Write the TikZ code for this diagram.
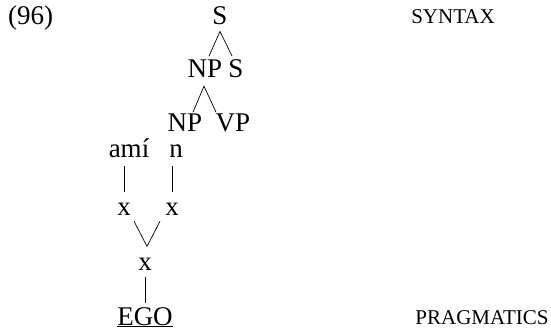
\documentclass[tikz,border=0pt]{standalone}
\usepackage{fontspec}
\setmainfont{Liberation Serif}
\usetikzlibrary{positioning,calc}

\begin{document}
\begin{tikzpicture}[
    x=1pt, y=-1pt,
    t1/.style={inner sep=0pt, anchor=base, font=\fontsize{27}{32}\selectfont},
    t2/.style={inner sep=0pt, anchor=base, font=\fontsize{21}{25}\selectfont},
    edge/.style={line width=0.7pt}
]
    \useasboundingbox (0,0) rectangle (551,331);

    \node [t1, anchor=base west] (ex) at (8,25) {(96)};
    \node [t2] (syn) at (453,24) {SYNTAX};
    \node [t2] (prag) at (482,324) {PRAGMATICS};

    % syntactic tree
    \node [t1] (s0) at (220,25) {S};
    \node [t1] (np1) at (205,78) {NP};
    \node [t1] (s1) at (236,78) {S};
    \node [t1] (np2) at (185,132) {NP};
    \node [t1] (vp) at (233,132) {VP};

    % pragmatic side
    \node [t1] (ami) at (129,158) {amí};
    \node [t1] (n) at (176,158) {n};
    \node [t1] (x1) at (124,215) {x};
    \node [t1] (x2) at (172,215) {x};
    \node [t1] (x3) at (145,270) {x};
    \node [t1] (ego) at (145,325) {\underline{EGO}};

    \coordinate (a1) at ($(s0.south)+(0,6)$);
    \coordinate (a2) at ($(np1.south)+(-1,8)$);
    \coordinate (a3) at ($(x3.north)+(2,-11)$);

    \draw [edge] ($(np1.north)+(4,-4)$) -- (a1) -- ($(s1.north)+(-4,-4)$);
    \draw [edge] ($(np2.north)+(8,-2)$) -- (a2) -- ($(vp.north)+(-17,-2)$);
    \draw [edge, shorten <=8pt, shorten >=10pt] (x1.north |- ami.south) -- (x1.north);
    \draw [edge, shorten <=8pt, shorten >=10pt] (x2.north |- n.south) -- (x2.north);
    \draw [edge] ($(x1.south)+(10,6)$) -- (a3) -- ($(x2.south)+(-12,6)$);
    \draw [edge, shorten <=7pt, shorten >=4pt] (x3.south) -- (ego.north);
\end{tikzpicture}
\end{document}
